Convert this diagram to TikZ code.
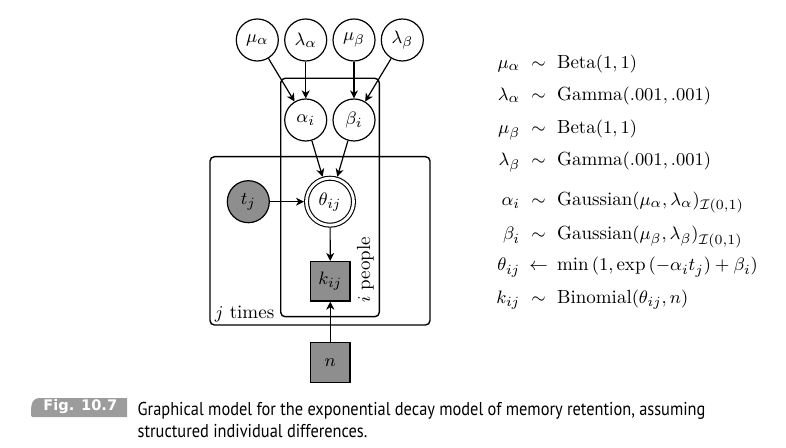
\documentclass[tikz,border=0pt]{standalone}
\usepackage{fontspec}
\newfontfamily\capfont[FakeStretch=0.88]{PT Sans}
\newfontfamily\figfont{DejaVu Sans}
\usetikzlibrary{arrows.meta}
\definecolor{nodegray}{HTML}{8E8E8E}
\definecolor{figgray}{HTML}{9C9C9C}
\tikzset{
  latent/.style={circle, draw, line width=0.6pt, minimum size=21pt, inner sep=0pt, fill=white},
  observed/.style={latent, fill=nodegray},
  detnode/.style={circle, draw, line width=0.55pt, double, double distance=1.4pt, minimum size=23.5pt, inner sep=0pt, outer sep=1.25pt},
  obsbox/.style={rectangle, draw, line width=0.6pt, fill=nodegray, minimum size=19.75pt, inner sep=0pt},
  plate/.style={draw, line width=0.7pt, rounded corners=2.2pt},
  edge/.style={-{Stealth[length=4pt,width=4pt,inset=1.2pt]}, line width=0.6pt},
  lhs/.style={inner sep=0pt, anchor=base east},
  rel/.style={inner sep=0pt, anchor=base},
  rhs/.style={inner sep=0pt, anchor=base west},
  captext/.style={inner sep=0pt, anchor=base west, font=\capfont\fontsize{9.3}{11}\selectfont},
  every node/.append style={font=\fontsize{9.5}{11.4}\selectfont}
}
\begin{document}
\begin{tikzpicture}[x=0.5pt,y=-0.5pt]
\useasboundingbox (0,0) rectangle (786,448);
% plates
\draw[plate] (280.7,78.3) rectangle (379.3,316.7);
\draw[plate] (210,156.7) rectangle (430,325);
\node[inner sep=0pt, anchor=base west] (jlab) at (214.5,318.3) {$j$ times};
\node[inner sep=0pt, anchor=base west, rotate=90] (ilab) at (370,303.3) {$i$ people};
% nodes
\node[latent] (muA) at (257.3,40) {$\mu_\alpha$};
\node[latent] (lamA) at (305.7,40) {$\lambda_\alpha$};
\node[latent] (muB) at (354,40) {$\mu_\beta$};
\node[latent] (lamB) at (402.3,40) {$\lambda_\beta$};
\node[latent] (alpha) at (305.7,120) {$\alpha_i$};
\node[latent] (beta) at (354,120) {$\beta_i$};
\node[detnode] (theta) at (330,201.7) {$\theta_{ij}$};
\node[observed] (t) at (248.3,201.7) {$t_j$};
\node[obsbox] (k) at (330.3,281.3) {$k_{ij}$};
\node[obsbox] (n) at (330.3,362.5) {$n$};
% edges
\draw[edge] (muA) -- (alpha);
\draw[edge] (lamA) -- (alpha);
\draw[edge] (muB) -- (beta);
\draw[edge] (lamB) -- (beta);
\draw[edge] (alpha) -- (theta);
\draw[edge] (beta) -- (theta);
\draw[edge] (t) -- (theta);
\draw[edge] (theta) -- (k);
\draw[edge] (n) -- (k);
% equations
\node[lhs] (l1) at (520.5,69) {$\mu_\alpha$};
\node[rel] (r1) at (538.6,69) {$\sim$};
\node[rhs] (e1) at (556.7,69) {$\mathrm{Beta}(1,1)$};
\node[lhs] (l2) at (520.5,101) {$\lambda_\alpha$};
\node[rel] (r2) at (538.6,101) {$\sim$};
\node[rhs] (e2) at (556.7,101) {$\mathrm{Gamma}(.001,.001)$};
\node[lhs] (l3) at (520.5,134) {$\mu_\beta$};
\node[rel] (r3) at (538.6,134) {$\sim$};
\node[rhs] (e3) at (556.7,134) {$\mathrm{Beta}(1,1)$};
\node[lhs] (l4) at (520.5,166) {$\lambda_\beta$};
\node[rel] (r4) at (538.6,166) {$\sim$};
\node[rhs] (e4) at (556.7,166) {$\mathrm{Gamma}(.001,.001)$};
\node[lhs] (l5) at (520.5,205.7) {$\alpha_i$};
\node[rel] (r5) at (538.6,205.7) {$\sim$};
\node[rhs] (e5) at (556.7,205.7) {$\mathrm{Gaussian}(\mu_\alpha,\lambda_\alpha)_{\mathcal{I}(0,1)}$};
\node[lhs] (l6) at (520.5,240) {$\beta_i$};
\node[rel] (r6) at (538.6,240) {$\sim$};
\node[rhs] (e6) at (556.7,240) {$\mathrm{Gaussian}(\mu_\beta,\lambda_\beta)_{\mathcal{I}(0,1)}$};
\node[lhs] (l7) at (520.5,271) {$\theta_{ij}$};
\node[rel] (r7) at (538.6,271) {$\leftarrow$};
\node[rhs] (e7) at (556.7,271) {$\min\,(1,\exp\,(-\alpha_i t_j)+\beta_i)$};
\node[lhs] (l8) at (520.5,303.3) {$k_{ij}$};
\node[rel] (r8) at (538.6,303.3) {$\sim$};
\node[rhs] (e8) at (556.7,303.3) {$\mathrm{Binomial}(\theta_{ij},n)$};
% caption
\fill[figgray] (127,398) -- (39,398) .. controls (33,398) and (31,404) .. (31,410) -- (31,415) .. controls (31,416.5) and (32,417) .. (33,417) -- (127,417) -- cycle;
\node[inner sep=0pt, anchor=base west, text=white, font=\figfont\bfseries\fontsize{7.3}{8}\selectfont] (fig) at (43,410.7) {Fig. 10.7};
\node[captext] (cap1) at (137.3,415.7) {Graphical model for the exponential decay model of memory retention, assuming};
\node[captext] (cap2) at (137.3,437.7) {structured individual differences.};
\end{tikzpicture}
\end{document}
